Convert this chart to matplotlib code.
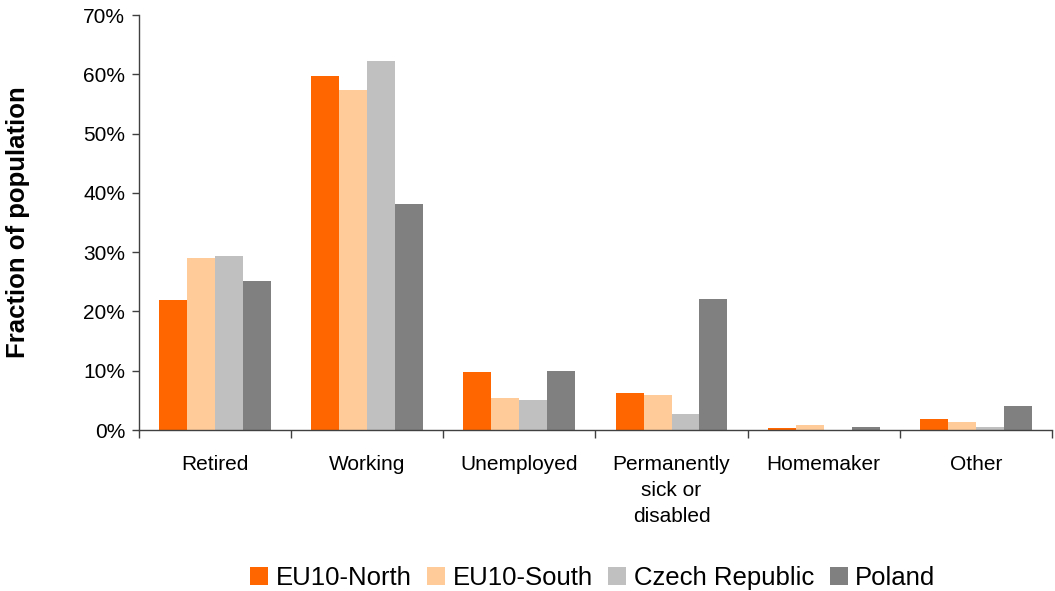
import matplotlib.pyplot as plt
import numpy as np
from matplotlib.ticker import PercentFormatter, FixedLocator

plt.rcParams['font.family'] = ['Liberation Sans', 'DejaVu Sans']

categories = ['Retired', 'Working', 'Unemployed', 'Permanently\nsick or\ndisabled', 'Homemaker', 'Other']
series = ['EU10-North', 'EU10-South', 'Czech Republic', 'Poland']
eu10_north = [22.0, 59.7, 9.8, 6.2, 0.3, 1.9]
eu10_south = [29.0, 57.3, 5.4, 5.9, 0.8, 1.4]
czech = [29.3, 62.3, 5.0, 2.7, 0.0, 0.5]
poland = [25.1, 38.1, 10.0, 22.1, 0.5, 4.1]
colors = ['#FF6600', '#FFCC99', '#C0C0C0', '#808080']

fig = plt.figure(figsize=(10.55, 5.91), dpi=100)
ax = fig.add_axes([0.1318, 0.2724, 0.8652, 0.7022])

x = np.arange(len(categories))
width = 0.184
values = [eu10_north, eu10_south, czech, poland]
for i, (name, vals) in enumerate(zip(series, values)):
    ax.bar(x + (i - 1.5) * width, vals, width, label=name, color=colors[i], zorder=2)

ax.set_xlim(-0.5, len(categories) - 0.5)
ax.set_ylim(0, 70)
ax.set_yticks(np.arange(0, 71, 10))
ax.yaxis.set_major_formatter(PercentFormatter(decimals=0))
ax.tick_params(axis='y', labelsize=15, length=5, width=1, color='#404040', pad=5)

ax.set_xticks(x)
ax.set_xticklabels(categories, fontsize=15, linespacing=1.45, va='top')
ax.tick_params(axis='x', which='major', length=0, pad=18)
ax.xaxis.set_minor_locator(FixedLocator(np.arange(-0.5, len(categories), 1.0)))
ax.tick_params(axis='x', which='minor', length=6, width=1, color='#404040')

for side in ['top', 'right']:
    ax.spines[side].set_visible(False)
for side in ['left', 'bottom']:
    ax.spines[side].set_color('#404040')
    ax.spines[side].set_linewidth(1)

ax.set_ylabel('Fraction of population', fontsize=18.5, fontweight='bold', labelpad=38)

ax.legend(loc='upper center', bbox_to_anchor=(0.497, -0.302), ncol=4, frameon=False,
          fontsize=18.5, handlelength=0.7, handleheight=0.7, handletextpad=0.3,
          columnspacing=0.6, borderaxespad=0)

fig.savefig('out.png', dpi=100)
